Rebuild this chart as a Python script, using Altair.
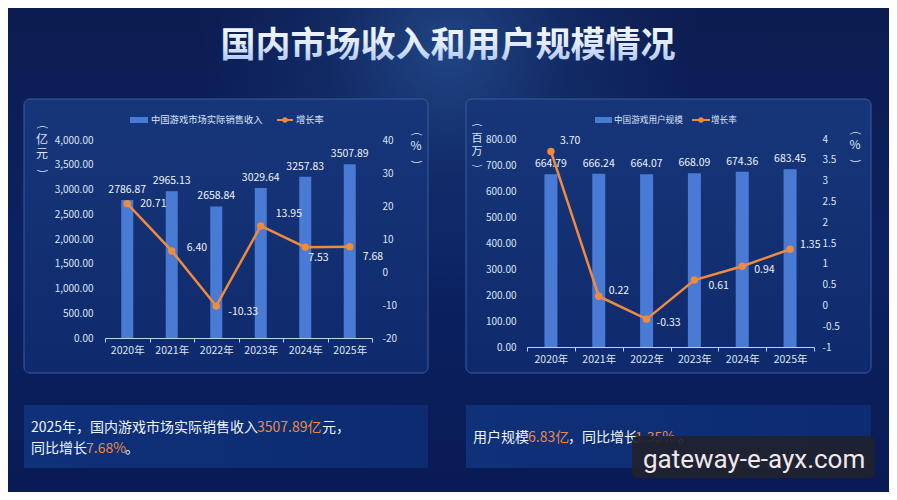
import altair as alt
import pandas as pd

# ---------------- data ----------------
years = ["2020年", "2021年", "2022年", "2023年", "2024年", "2025年"]
revenue = [2786.87, 2965.13, 2658.84, 3029.64, 3257.83, 3507.89]
revenue_growth = [20.71, 6.40, -10.33, 13.95, 7.53, 7.68]
users = [664.79, 666.24, 664.07, 668.09, 674.36, 683.45]
users_growth = [3.70, 0.22, -0.33, 0.61, 0.94, 1.35]

revenue_ticks = [0, 500, 1000, 1500, 2000, 2500, 3000, 3500, 4000]
revenue_growth_ticks = [-20, -10, 0, 10, 20, 30, 40]
users_ticks = [0, 100, 200, 300, 400, 500, 600, 700, 800]
users_growth_ticks = [-1, -0.5, 0, 0.5, 1, 1.5, 2, 2.5, 3, 3.5, 4]

title_text = "国内市场收入和用户规模情况"
legend_left = "中国游戏市场实际销售收入"
legend_right = "中国游戏用户规模"
legend_rate = "增长率"

# ---------------- style ----------------
W, H = 881, 484
FONT = "Noto Sans CJK SC"
BAR = "#4a7bd4"
ORANGE = "#f08a3c"
LABEL = "#dbe4f7"
WHITE = "#eef2fb"
AXISLINE = "#c3d0ee"

# label placement (dx, dy) for the growth-rate labels
rev_label_pos = {"2020年": (13, 0), "2021年": (15, -3), "2022年": (12, 6),
                 "2023年": (15, -12), "2024年": (3, 11), "2025年": (13, 10)}
usr_label_pos = {"2020年": (9, -10), "2021年": (10, -5), "2022年": (10, 4),
                 "2023年": (14, 6), "2024年": (12, 4), "2025年": (10, -4)}


def one():
    return alt.Data(values=[{"d": 1}])


def deco_rect(x, x2, y, y2, **mk):
    return alt.Chart(one()).mark_rect(**mk).encode(
        x=alt.value(x), x2=alt.value(x2), y=alt.value(y), y2=alt.value(y2))


def deco_text(x, y, text, **mk):
    return alt.Chart(one()).mark_text(**mk).encode(
        x=alt.value(x), y=alt.value(y), text=alt.value(text))


def lin(stops, x1=0, y1=0, x2=0, y2=1):
    return alt.LinearGradient(
        gradient="linear",
        stops=[alt.GradientStop(color=c, offset=o) for o, c in stops],
        x1=x1, y1=y1, x2=x2, y2=y2)


def panel(values, growth, x_rng, y_rng, vdom, gdom, vticks, gticks, vfmt,
          bar_size, x_off, l_off, l_pad, r_off, r_pad, label_pos):
    df = pd.DataFrame({"year": years, "value": values, "growth": growth})
    xs = alt.Scale(type="band", domain=years, range=x_rng,
                   paddingInner=0, paddingOuter=0)
    vs = alt.Scale(domain=vdom, range=y_rng, zero=False, nice=False)
    gs = alt.Scale(domain=gdom, range=y_rng, zero=False, nice=False)
    base = alt.Chart(df)

    x_axis = alt.Axis(orient="bottom", offset=x_off, tickBand="extent",
                      domainColor=AXISLINE, tickColor=AXISLINE, tickSize=4,
                      labelColor=LABEL, labelFont=FONT, labelFontSize=10.5,
                      labelPadding=3, labelAngle=0, grid=False, title=None,
                      zindex=2)
    l_axis = alt.Axis(orient="left", offset=l_off, values=vticks, format=vfmt,
                      domain=False, ticks=False, tickSize=0, labelPadding=l_pad,
                      labelColor=LABEL, labelFont=FONT, labelFontSize=10,
                      grid=False, title=None, zindex=2)
    r_axis = alt.Axis(orient="right", offset=r_off, values=gticks, format=".1~f",
                      domain=False, ticks=False, tickSize=0, labelPadding=r_pad,
                      labelColor=LABEL, labelFont=FONT, labelFontSize=10,
                      grid=False, title=None, zindex=2)

    def X(axis=None):
        return alt.X("year:N", scale=xs, axis=axis, title=None, bandPosition=0.5)

    bars = base.mark_bar(size=bar_size, color=BAR).encode(
        x=alt.X("year:N", scale=xs, axis=x_axis, title=None),
        y=alt.Y("value:Q", scale=vs, axis=l_axis, title=None))
    bar_labels = base.mark_text(baseline="bottom", dy=-5, color=WHITE,
                                font=FONT, fontSize=10.5).encode(
        x=X(), y=alt.Y("value:Q", scale=vs, axis=None),
        text=alt.Text("value:Q", format=".2f"))
    line = base.mark_line(color=ORANGE, strokeWidth=2.5).encode(
        x=X(), y=alt.Y("growth:Q", scale=gs, axis=r_axis, title=None))
    pts = base.mark_circle(size=55, color=ORANGE, opacity=1).encode(
        x=X(), y=alt.Y("growth:Q", scale=gs, axis=None))
    labels = []
    for yr in years:
        dx, dy = label_pos[yr]
        labels.append(
            base.transform_filter(alt.datum.year == yr).mark_text(
                align="left", baseline="middle", dx=dx, dy=dy, color=WHITE,
                font=FONT, fontSize=10.5).encode(
                x=X(), y=alt.Y("growth:Q", scale=gs, axis=None),
                text=alt.Text("growth:Q", format=".2f")))
    return [bars, bar_labels, line, pts] + labels


# ---------------- decorations ----------------
background = deco_rect(0, W, 0, H, color=lin(
    [(0, "#0c1c50"), (0.5, "#0b2262"), (1, "#091b55")]))
glow = deco_rect(190, 690, -210, 290, color=alt.RadialGradient(
    gradient="radial",
    stops=[alt.GradientStop(color="rgba(45,95,165,0.6)", offset=0),
           alt.GradientStop(color="rgba(45,95,165,0.18)", offset=0.5),
           alt.GradientStop(color="rgba(45,95,165,0)", offset=1)],
    x1=0.5, y1=0.5, r1=0, x2=0.5, y2=0.5, r2=0.5))

panel_fill = lin([(0, "#17367a"), (1, "#0f2a6c")])
panel_l = deco_rect(16, 420, 91, 365, color=panel_fill, cornerRadius=6,
                    stroke="#3c5c9e", strokeWidth=1)
panel_r = deco_rect(458, 863, 91, 365, color=panel_fill, cornerRadius=6,
                    stroke="#3c5c9e", strokeWidth=1)
box_fill = lin([(0, "#0f3179"), (1, "#0c2b70")], x1=0, y1=0, x2=1, y2=0)
box_l = deco_rect(16, 420, 397, 460, color=box_fill)
box_r = deco_rect(458, 863, 397, 460, color=box_fill)

title = deco_text(440, 38, title_text, font=FONT, fontSize=35, fontWeight="bold",
                  align="center", baseline="middle",
                  color=lin([(0, "#ffffff"), (0.55, "#dfe9ff"), (1, "#9fbcee")]))

# legends
legends = [
    deco_rect(122, 140, 109, 115, color=BAR),
    deco_text(143, 112, legend_left, font=FONT, fontSize=9.3, color=LABEL,
              align="left", baseline="middle"),
    deco_rect(269, 285, 111, 113, color=ORANGE),
    alt.Chart(one()).mark_circle(size=30, color=ORANGE, opacity=1).encode(
        x=alt.value(277), y=alt.value(112)),
    deco_text(288, 112, legend_rate, font=FONT, fontSize=9.3, color=LABEL,
              align="left", baseline="middle"),
    deco_rect(587, 604, 109, 115, color=BAR),
    deco_text(606, 112, legend_right, font=FONT, fontSize=8.6, color=LABEL,
              align="left", baseline="middle"),
    deco_rect(684, 702, 111, 113, color=ORANGE),
    alt.Chart(one()).mark_circle(size=30, color=ORANGE, opacity=1).encode(
        x=alt.value(693), y=alt.value(112)),
    deco_text(703, 112, legend_rate, font=FONT, fontSize=8.6, color=LABEL,
              align="left", baseline="middle"),
]

# vertical axis titles: rotated parentheses around stacked characters
ct = dict(font=FONT, color=LABEL, align="center")


def vtitle(x, y_open, y_top, y_close, chars, fs, lh):
    return [deco_text(x, y_open, "(", fontSize=fs - 1, angle=90,
                      baseline="middle", **ct),
            deco_text(x, y_top, chars, fontSize=fs, lineHeight=lh,
                      lineBreak="\n", baseline="top", **ct),
            deco_text(x, y_close, ")", fontSize=fs - 1, angle=90,
                      baseline="middle", **ct)]


axis_titles = (vtitle(34, 119, 127, 163, "亿\n元", 12, 14)
               + vtitle(408, 126, 133, 154, "%", 12, 14)
               + vtitle(469, 117, 125, 158, "百\n万", 11, 13)
               + vtitle(847, 125, 132, 153, "%", 12, 14))

# summary texts
st = dict(font=FONT, fontSize=14, align="left", baseline="middle")
HL = "#e8894a"
summary = [
    deco_text(23, 420, "2025年，国内游戏市场实际销售收入", color=WHITE, **st),
    deco_text(249, 420, "3507.89亿", color=HL, **st),
    deco_text(314, 420, "元，", color=WHITE, **st),
    deco_text(23, 441, "同比增长", color=WHITE, **st),
    deco_text(78, 441, "7.68%", color=HL, **st),
    deco_text(117, 441, "。", color=WHITE, **st),
    deco_text(465, 430, "用户规模", color=WHITE, **st),
    deco_text(520, 430, "6.83亿", color=HL, **st),
    deco_text(560, 430, "，同比增长", color=WHITE, **st),
    deco_text(627, 430, "1.35%", color=HL, **st),
    deco_text(670, 430, "。", color=WHITE, **st),
]

watermark = [
    deco_rect(624, 867, 428, 470, color="#20222e", opacity=0.92, cornerRadius=6),
    deco_text(635, 460, "gateway-e-ayx.com", font="Roboto",
              fontSize=26, color="#f2e8ec", align="left", baseline="alphabetic"),
]

left_layers = panel(revenue, revenue_growth, [97, 364], [330, 132], [0, 4000],
                    [-20, 40], revenue_ticks, revenue_growth_ticks, ",.2f",
                    12, 330 - H, -97, 12, 364 - W, 10, rev_label_pos)
right_layers = panel(users, users_growth, [519, 806], [339, 131], [0, 800],
                     [-1, 4], users_ticks, users_growth_ticks, ",.2f",
                     13, 339 - H, -519, 11, 806 - W, 8, usr_label_pos)

chart = alt.layer(
    background, glow, panel_l, panel_r, box_l, box_r, title,
    *legends, *axis_titles, *left_layers, *right_layers, *summary, *watermark
).resolve_scale(x="independent", y="independent").properties(
    width=W, height=H, padding=0,
    autosize=alt.AutoSizeParams(type="none"),
    background="#0a1d58",
).configure_view(stroke=None).configure_axis(grid=False).configure(
    locale={"number": {"decimal": ".", "thousands": ",", "grouping": [3],
                       "currency": ["$", ""], "minus": "-"}}
)

chart.save("out.html", embed_options={"renderer": "svg", "actions": False})
